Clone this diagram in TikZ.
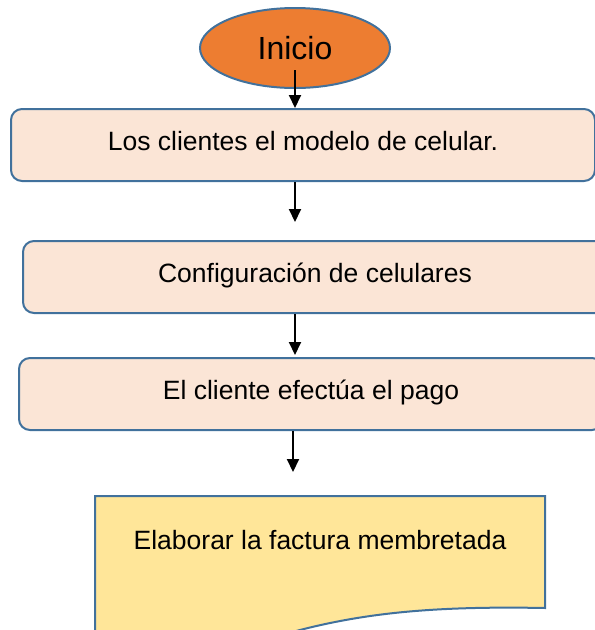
\documentclass[tikz,border=0pt]{standalone}
\usepackage{fontspec}
\setmainfont{Liberation Sans}
\usetikzlibrary{arrows.meta}
\usetikzlibrary{shapes.geometric}

\begin{document}
\begin{tikzpicture}[x=1pt, y=-1pt,
  caja/.style={draw=borde, line width=2pt, fill=piel, rounded corners=11pt, anchor=north west,
    minimum width=584pt, minimum height=72pt, text depth=9pt, font=\fontsize{26.5}{30}\selectfont},
  flecha/.style={black, line width=2pt, ->, >={Triangle[length=13pt,width=12pt]}}]
\definecolor{borde}{HTML}{41719C}
\definecolor{piel}{HTML}{FBE5D6}
\definecolor{naranja}{HTML}{ED7D31}
\definecolor{amarillo}{HTML}{FFE699}
\useasboundingbox (0,0) rectangle (595,630);
\clip (0,0) rectangle (595,630);
% inicio
\node[ellipse, draw=borde, line width=2pt, fill=naranja, minimum width=190pt, minimum height=80pt,
  font=\fontsize{32}{36}\selectfont] (inicio) at (295,48) {Inicio};
% pasos
\node[caja] (paso1) at (10,108) {Los clientes el modelo de celular.};
\node[caja] (paso2) at (22,240) {Configuración de celulares};
\node[caja] (paso3) at (18,357) {El cliente efectúa el pago};
% documento
\draw[draw=borde, line width=2pt, fill=amarillo] (95,496) -- (545,496) -- (545,608)
  .. controls (440,606) and (370,612) .. (300,630) .. controls (220,652) and (150,655) .. (95,648) -- cycle;
\node[font=\fontsize{26.5}{30}\selectfont] (factura) at (320,540) {Elaborar la factura membretada};
\coordinate (doc) at (293,496);
% flechas
\draw[flecha] ([yshift=-22pt]inicio.center) -- (paso1.north -| inicio.center);
\draw[flecha] (paso1.south -| inicio.center) -- ([yshift=18pt]paso2.north -| inicio.center);
\draw[flecha] (paso2.south -| inicio.center) -- ([yshift=2pt]paso3.north -| inicio.center);
\draw[flecha] (paso3.south -| doc) -- ([yshift=24pt]doc);
\end{tikzpicture}
\end{document}
